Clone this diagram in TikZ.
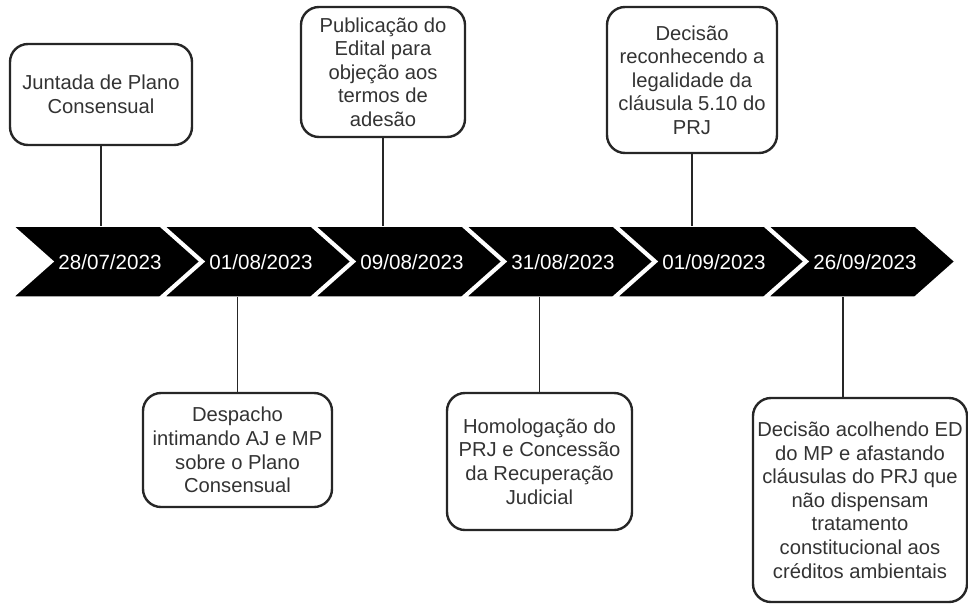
\documentclass[tikz,border=0pt]{standalone}
\usepackage{fontspec}
\setmainfont{Liberation Sans}
\usepackage{tikz}
\usetikzlibrary{positioning}
\usetikzlibrary{arrows}

\tikzset{
	evento/.style={draw=black!85, line width=2.4pt, rounded corners=18pt, fill=white, align=center, text=black!80, font=\fontsize{20.2}{23.6}\selectfont, inner sep=3pt},
	data/.style={text=white, font=\fontsize{20.6}{24}\selectfont},
	seta/.style={fill=black, draw=white, line width=1.5pt},
	ligacao/.style={draw=black!85, line width=1.3pt}
}

\begin{document}
\begin{tikzpicture}[x=1pt,y=-1pt]
		\useasboundingbox (0,0) rectangle (968,608);
		% linha do tempo
		\foreach \i in {0,...,5}
			\path[seta] (13+151*\i,226) -- ++(147,0) -- ++(40,35.5) -- ++(-40,35.5) -- ++(-147,0) -- ++(40,-35.5) -- cycle;
		\node[data] (d1) at (110,262) {28/07/2023};
		\node[data] (d2) at (261,262) {01/08/2023};
		\node[data] (d3) at (412,262) {09/08/2023};
		\node[data] (d4) at (563,262) {31/08/2023};
		\node[data] (d5) at (714,262) {01/09/2023};
		\node[data] (d6) at (865,262) {26/09/2023};
		% eventos acima
		\node[evento, minimum width=182pt, minimum height=101pt] (juntada) at (101,94.5) {Juntada de Plano\\Consensual};
		\node[evento, minimum width=164pt, minimum height=130pt] (edital) at (383,72) {Publicação do\\Edital para\\objeção aos\\termos de\\adesão};
		\node[evento, minimum width=170pt, minimum height=146pt] (legalidade) at (692,80) {Decisão\\reconhecendo a\\legalidade da\\cláusula 5.10 do\\PRJ};
		% eventos abaixo
		\node[evento, minimum width=189pt, minimum height=114pt] (despacho) at (237.5,450) {Despacho\\intimando AJ e MP\\sobre o Plano\\Consensual};
		\node[evento, minimum width=185pt, minimum height=137pt] (homologacao) at (539.5,461.5) {Homologação do\\PRJ e Concessão\\da Recuperação\\Judicial};
		\node[evento, minimum width=214pt, minimum height=204pt] (embargos) at (860,500) {Decisão acolhendo ED\\do MP e afastando\\cláusulas do PRJ que\\não dispensam\\tratamento\\constitucional aos\\créditos ambientais};
		% ligacoes
		\coordinate (t1) at (101,226);
		\coordinate (t3) at (383,226);
		\coordinate (t5) at (692,226);
		\coordinate (t2) at (237.5,297);
		\coordinate (t4) at (539.5,297);
		\coordinate (t6) at (843,297);
		\path[ligacao] (juntada) -- (t1);
		\path[ligacao] (edital) -- (t3);
		\path[ligacao] (legalidade) -- (t5);
		\path[ligacao] (despacho) -- (t2);
		\path[ligacao] (homologacao) -- (t4);
		\path[ligacao] (t6) -- (t6 |- embargos.north);
	\end{tikzpicture}
\end{document}
